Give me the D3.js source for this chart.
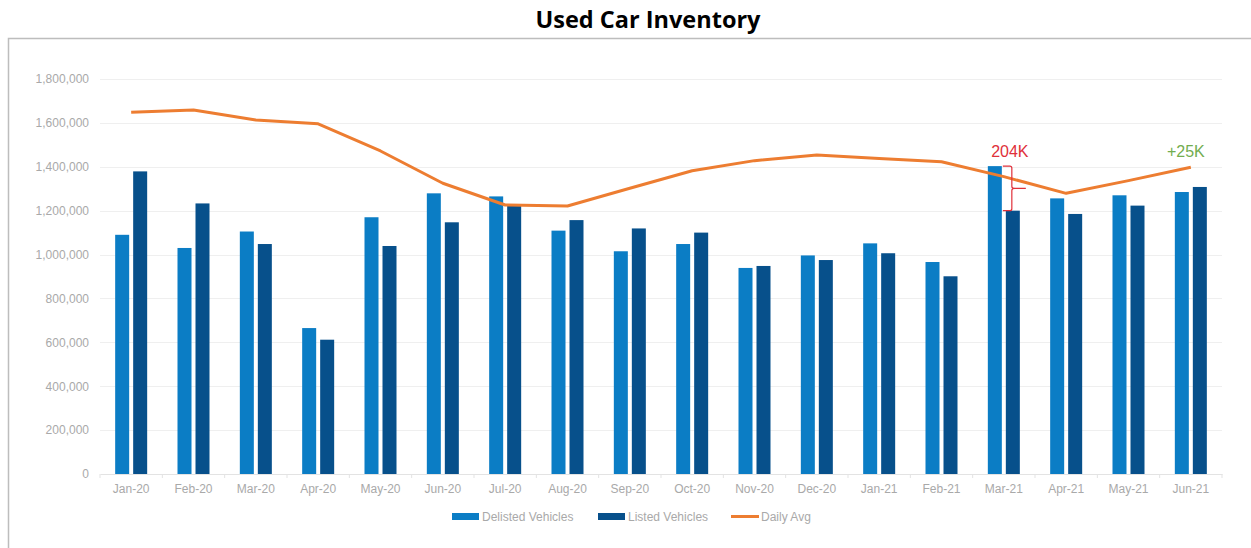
<!DOCTYPE html>
<html><head><meta charset="utf-8">
<script src="https://cdn.jsdelivr.net/npm/d3@7"></script>
<style>
html,body{margin:0;padding:0;background:#fff;}
svg{display:block;}
</style></head>
<body><svg id="c" width="1251" height="548"></svg>
<script>
const categories = ["Jan-20","Feb-20","Mar-20","Apr-20","May-20","Jun-20","Jul-20","Aug-20","Sep-20","Oct-20","Nov-20","Dec-20","Jan-21","Feb-21","Mar-21","Apr-21","May-21","Jun-21"];
const delisted = [1090000,1030000,1105000,665000,1170000,1279000,1265000,1109000,1015000,1048000,939000,996000,1051000,966000,1403000,1256000,1270000,1285000];
const listed = [1379000,1233000,1048000,612000,1039000,1147000,1225000,1157000,1119000,1100000,948000,975000,1006000,901000,1200000,1185000,1223000,1308000];
const dailyAvg = [1648000,1659000,1613000,1596000,1472000,1325000,1226000,1221000,1302000,1382000,1428000,1454000,1438000,1423000,1355000,1279000,1337000,1398000];
const yTicks = [0,200000,400000,600000,800000,1000000,1200000,1400000,1600000,1800000];
const seriesNames = ["Delisted Vehicles","Listed Vehicles","Daily Avg"];
const colors = {delisted:"#0b7dc5", listed:"#07508b", avg:"#ed7d31"};
const annotations = [
  {cat:"Mar-21", text:"204K", color:"#e0303a"},
  {cat:"Jun-21", text:"+25K", color:"#72ad4f"}
];

const svg = d3.select("#c");
const m = {left:100, right:1222, top:79, bottom:474};

// Title
svg.append("text").attr("x",648).attr("y",28).attr("text-anchor","middle")
  .attr("font-family","'Open Sans', 'Liberation Sans', sans-serif").attr("font-weight","bold")
  .attr("font-size",23.5).attr("fill","#000").text("Used Car Inventory");

// Frame
svg.append("rect").attr("x",8.5).attr("y",38.5).attr("width",1260).attr("height",530)
  .attr("fill","none").attr("stroke","#bdbdbd").attr("stroke-width",1.5);

const x = d3.scaleBand().domain(categories).range([m.left,m.right]).paddingInner(0).paddingOuter(0);
const y = d3.scaleLinear().domain([0,1800000]).range([m.bottom,m.top]);

// gridlines
svg.append("g").selectAll("line").data(yTicks.filter(d=>d>0)).join("line")
  .attr("x1",m.left).attr("x2",m.right)
  .attr("y1",d=>Math.round(y(d))+0.5).attr("y2",d=>Math.round(y(d))+0.5)
  .attr("stroke","#efefef").attr("stroke-width",1);

// y axis
const yAxis = d3.axisLeft(y).tickValues(yTicks).tickFormat(d3.format(",")).tickSize(0).tickPadding(11);
const gy = svg.append("g").attr("transform",`translate(${m.left},0)`).call(yAxis);
gy.select(".domain").remove();
gy.selectAll("text").attr("font-family","'Liberation Sans', Arial, sans-serif").attr("font-size",12).attr("fill","#a9a9a9");

// x axis
const xAxis = d3.axisBottom(x).tickSize(0).tickPadding(10);
const gx = svg.append("g").attr("transform",`translate(0,${m.bottom})`).call(xAxis);
gx.select(".domain").attr("stroke","#e3e3e3");
gx.selectAll("text").attr("font-family","'Liberation Sans', Arial, sans-serif").attr("font-size",12).attr("fill","#a9a9a9");
svg.append("g").selectAll("line").data(categories.concat(["_end"])).join("line")
  .attr("x1",(d,i)=>m.left + i*x.bandwidth()).attr("x2",(d,i)=>m.left + i*x.bandwidth())
  .attr("y1",m.bottom).attr("y2",m.bottom+4).attr("stroke","#e3e3e3");

// bars
const barW = 14, gap = 4;
const inner = d3.scaleBand().domain(["delisted","listed"]).range([0,barW*2+gap]).paddingInner(gap/(barW+gap));
const off = x.bandwidth()/2 - (barW*2+gap)/2;
const gBars = svg.append("g");
gBars.selectAll("rect.d").data(delisted).join("rect").attr("class","d")
  .attr("x",(d,i)=>x(categories[i])+off+inner("delisted")).attr("width",inner.bandwidth())
  .attr("y",d=>y(d)).attr("height",d=>y(0)-y(d)).attr("fill",colors.delisted);
gBars.selectAll("rect.l").data(listed).join("rect").attr("class","l")
  .attr("x",(d,i)=>x(categories[i])+off+inner("listed")).attr("width",inner.bandwidth())
  .attr("y",d=>y(d)).attr("height",d=>y(0)-y(d)).attr("fill",colors.listed);

// line
const line = d3.line().x((d,i)=>x(categories[i])+x.bandwidth()/2).y(d=>y(d));
svg.append("path").datum(dailyAvg).attr("d",line).attr("fill","none")
  .attr("stroke",colors.avg).attr("stroke-width",3).attr("stroke-linejoin","round");

// annotations
const a0 = annotations[0];
const i0 = categories.indexOf(a0.cat);
const cx0 = x(a0.cat)+x.bandwidth()/2;
const yTop = y(delisted[i0]), yBot = y(listed[i0]);
const bx = cx0 + 8;
const ymid = (yTop+yBot)/2;
svg.append("path")
  .attr("d",`M${cx0-1},${yTop} L${bx-2},${yTop} Q${bx},${yTop} ${bx},${yTop+2} L${bx},${ymid-2} Q${bx},${ymid} ${bx+3},${ymid} L${bx+14},${ymid} M${bx+3},${ymid} Q${bx},${ymid} ${bx},${ymid+2} L${bx},${yBot-2} Q${bx},${yBot} ${bx-2},${yBot} L${cx0-1},${yBot}`)
  .attr("fill","none").attr("stroke",a0.color).attr("stroke-width",1.2);
svg.append("text").attr("x",cx0+6).attr("y",yTop-9).attr("text-anchor","middle")
  .attr("font-family","'Liberation Sans', Arial, sans-serif").attr("font-size",16)
  .attr("fill",a0.color).text(a0.text);
const a1 = annotations[1];
const i1 = categories.indexOf(a1.cat);
svg.append("text").attr("x",x(a1.cat)+x.bandwidth()/2-5).attr("y",y(dailyAvg[i1])-10).attr("text-anchor","middle")
  .attr("font-family","'Liberation Sans', Arial, sans-serif").attr("font-size",16)
  .attr("fill",a1.color).text(a1.text);

// legend
const legend = [
  {name:seriesNames[0], type:"bar", color:colors.delisted, x:452},
  {name:seriesNames[1], type:"bar", color:colors.listed, x:598},
  {name:seriesNames[2], type:"line", color:colors.avg, x:731}
];
const lg = svg.append("g");
legend.forEach(l=>{
  if(l.type==="bar"){
    lg.append("rect").attr("x",l.x).attr("y",513).attr("width",27).attr("height",7).attr("fill",l.color);
  } else {
    lg.append("line").attr("x1",l.x).attr("x2",l.x+28).attr("y1",516.5).attr("y2",516.5)
      .attr("stroke",l.color).attr("stroke-width",3);
  }
  lg.append("text").attr("x",l.x+30).attr("y",521).attr("font-family","'Liberation Sans', Arial, sans-serif")
    .attr("font-size",12).attr("fill","#a9a9a9").text(l.name);
});
</script></body></html>
